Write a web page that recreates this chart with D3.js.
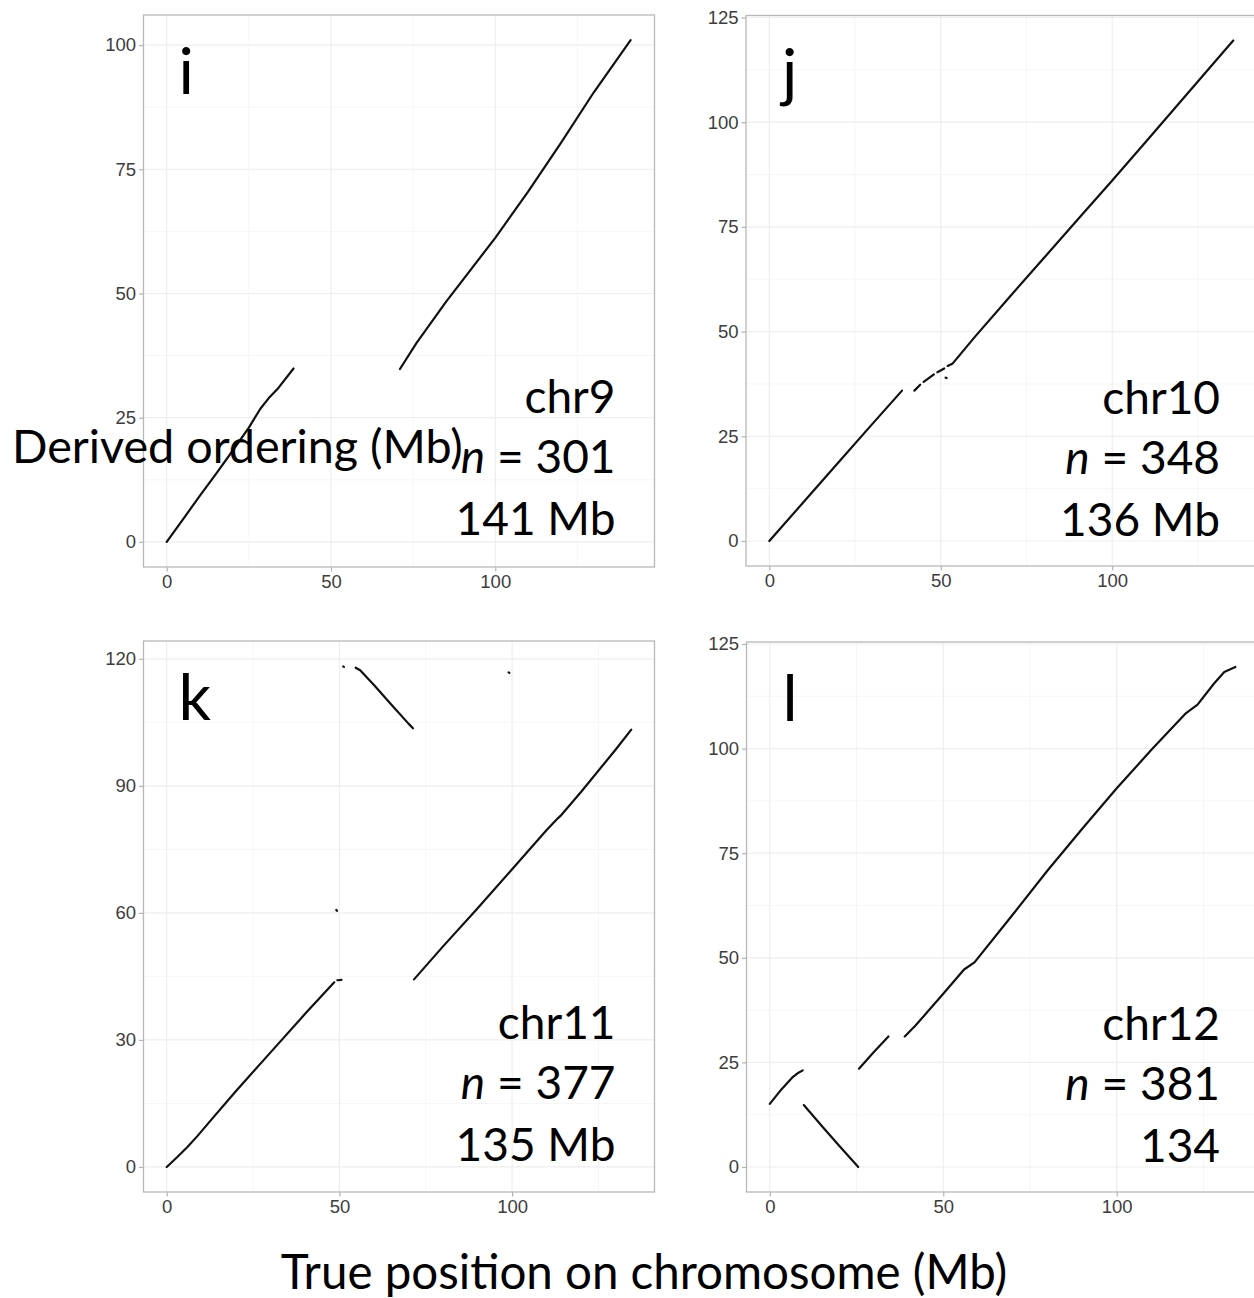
<!DOCTYPE html>
<html>
<head>
<meta charset="utf-8">
<script src="https://cdn.jsdelivr.net/npm/d3@7"></script>
<style>
  html, body { margin: 0; padding: 0; background: #fff; }
  svg { display: block; }
</style>
</head>
<body>
<div id="chart"></div>
<script>
// panel labels and annotation text
const panelLetters = ["i", "j", "k", "l"];
const chrNames = ["chr9", "chr10", "chr11", "chr12"];
const markerCounts = [301, 348, 377, 381];
const sizeLabels = ["141 Mb", "136 Mb", "135 Mb", "134"];

// axis ranges (data extent, ggplot adds 5% on each side)
const xLimits = [[0, 141.4], [0, 136], [0, 134.5], [0, 134.3]];
const yLimits = [[0, 101], [0, 119.5], [0, 118.3], [0, 119.5]];
const xTicks = [0, 50, 100];
const yTicks = [
  [0, 25, 50, 75, 100],
  [0, 25, 50, 75, 100, 125],
  [0, 30, 60, 90, 120],
  [0, 25, 50, 75, 100, 125]
];

// marker runs: [true position, derived position] in Mb
const chr9Runs = [
  [[0,0],[5,4.6],[10,9.2],[15,13.7],[20,18.3],[25,23],[28.5,26.8],[31,28.9],[34,31],[38.6,34.9]],
  [[71,34.8],[76,40],[85,48.3],[100,61.2],[110,70.5],[120,80.3],[130,90.5],[141.2,101]]
];
const chr10Runs = [
  [[0,0],[10,9.3],[20,18.6],[30,27.9],[38.7,35.9]],
  [[42.3,35.9],[44,37.3]],
  [[45,38],[48,39.8]],
  [[49,40.3],[51,41.2]],
  [[51.4,39],[51.7,38.9]],
  [[52,41.8],[53.5,42.4],[60,48.8],[70,58.2],[80,67.5],[90,76.8],[100,86.1],[110,95.5],[120,105],[130,114.5],[135.3,119.5]],
  [[130.2,2.6],[130.4,2.7]]
];
const chr11Runs = [
  [[0,0],[3,2.3],[6,4.7],[9,7.4],[12,10.3],[20,17.9],[30,27],[40,36.1],[48.5,43.6]],
  [[49.4,44.1],[50.6,44.2]],
  [[49.1,60.7],[49.3,60.5]],
  [[51.1,118.2],[51.3,118.1]],
  [[99,116.8],[99.2,116.7]],
  [[54.7,117.9],[56,117.3],[60,113.8],[65,109.2],[70,104.7],[71.3,103.6]],
  [[71.6,44.3],[80,52.1],[89.5,60.6],[100,70.3],[110,79.6],[113.3,82.4],[114,82.9],[120,88.6],[130,98.6],[134.5,103.3]]
];
const chr12Runs = [
  [[0,15.1],[3,18.2],[6.5,21.4],[8,22.4],[9.5,23.1]],
  [[9.8,14.8],[15,9.8],[20,5.1],[25.5,0]],
  [[25.7,23.5],[30,27.5],[34.2,31.2]],
  [[38.9,31.2],[42,33.8],[50,41.4],[56,47.2],[59,48.9],[70,60.3],[80,70.8],[90,80.8],[100,90.5],[110,99.7],[120,108.5],[123.3,110.5],[128,115.5],[131,118.3],[134.2,119.5]]
];
const allRuns = [chr9Runs, chr10Runs, chr11Runs, chr12Runs];

// panel frames in page pixels
const frames = [
  {left: 143.5, top: 15,  right: 654.5, bottom: 567},
  {left: 746,   top: 15.5, right: 1259, bottom: 566},
  {left: 143.5, top: 641, right: 654.5, bottom: 1192},
  {left: 746.5, top: 642, right: 1259, bottom: 1192}
];

const W = 1254, H = 1298;
const bigFont = "Lato, 'Open Sans', sans-serif";
const tickFont = "'Liberation Sans', Arial, sans-serif";

const svg = d3.select("#chart").append("svg")
    .attr("width", W)
    .attr("height", H);

function expand(lim) {
  const pad = (lim[1] - lim[0]) * 0.05;
  return [lim[0] - pad, lim[1] + pad];
}

function minorBreaks(ticks, dom) {
  const step = ticks[1] - ticks[0];
  return d3.range(ticks[0] - step / 2, dom[1], step).filter(v => v >= dom[0] && v <= dom[1]);
}

frames.forEach((f, i) => {
  const w = f.right - f.left, h = f.bottom - f.top;
  const x = d3.scaleLinear().domain(expand(xLimits[i])).range([0, w]);
  const y = d3.scaleLinear().domain(expand(yLimits[i])).range([h, 0]);

  const g = svg.append("g").attr("transform", "translate(" + f.left + "," + f.top + ")");

  // grid, minor first
  g.selectAll(".vminor").data(minorBreaks(xTicks, x.domain())).enter().append("line")
    .attr("x1", d => x(d)).attr("x2", d => x(d)).attr("y1", 0).attr("y2", h)
    .style("stroke", "#f4f4f4").style("stroke-width", 0.8);
  g.selectAll(".hminor").data(minorBreaks(yTicks[i], y.domain())).enter().append("line")
    .attr("y1", d => y(d)).attr("y2", d => y(d)).attr("x1", 0).attr("x2", w)
    .style("stroke", "#f4f4f4").style("stroke-width", 0.8);
  g.selectAll(".vmajor").data(xTicks).enter().append("line")
    .attr("x1", d => x(d)).attr("x2", d => x(d)).attr("y1", 0).attr("y2", h)
    .style("stroke", "#eeeeee").style("stroke-width", 1.2);
  g.selectAll(".hmajor").data(yTicks[i]).enter().append("line")
    .attr("y1", d => y(d)).attr("y2", d => y(d)).attr("x1", 0).attr("x2", w)
    .style("stroke", "#eeeeee").style("stroke-width", 1.2);

  // axes
  const xAxis = g.append("g").attr("transform", "translate(0," + h + ")")
    .call(d3.axisBottom(x).tickValues(xTicks).tickSize(4.5).tickPadding(3.5));
  const yAxis = g.append("g")
    .call(d3.axisLeft(y).tickValues(yTicks[i]).tickSize(4.5).tickPadding(3));
  [xAxis, yAxis].forEach(a => {
    a.select(".domain").remove();
    a.selectAll(".tick line").style("stroke", "#b3b3b3").style("stroke-width", 1.2);
    a.selectAll(".tick text").style("fill", "#3d3d3d")
      .style("font-family", tickFont).style("font-size", "18.5px");
  });

  // marker runs
  const line = d3.line().x(d => x(d[0])).y(d => y(d[1]));
  g.selectAll(".run").data(allRuns[i]).enter().append("path")
    .attr("d", line)
    .style("fill", "none")
    .style("stroke", "#111")
    .style("stroke-width", 2.2)
    .style("stroke-linecap", "round")
    .style("stroke-linejoin", "round");

  // frame
  g.append("rect").attr("width", w).attr("height", h)
    .style("fill", "none").style("stroke", "#b8b8b8").style("stroke-width", 1.3);

  // panel letter
  g.append("text")
    .attr("x", i % 2 === 0 ? 35 : 36)
    .attr("y", 79)
    .style("font-family", bigFont).style("font-size", "64px")
    .text(panelLetters[i]);

  // chromosome annotation
  const tx = w - 39;
  const ann = g.append("g").style("font-family", bigFont).style("font-size", "46px")
    .attr("text-anchor", "end");
  ann.append("text").attr("x", tx).attr("y", 398).text(chrNames[i]);
  const nt = ann.append("text").attr("x", tx).attr("y", 458);
  nt.append("tspan").style("font-style", "italic").text("n");
  nt.append("tspan").text(" = " + markerCounts[i]);
  ann.append("text").attr("x", tx).attr("y", 520).text(sizeLabels[i]);
});

// shared axis titles
svg.append("text")
  .attr("x", 12).attr("y", 463)
  .style("font-family", bigFont).style("font-size", "46.7px")
  .text("Derived ordering (Mb)");

svg.append("text")
  .attr("x", 644).attr("y", 1289)
  .attr("text-anchor", "middle")
  .style("font-family", bigFont).style("font-size", "47.5px")
  .text("True position on chromosome (Mb)");
</script>
</body>
</html>
